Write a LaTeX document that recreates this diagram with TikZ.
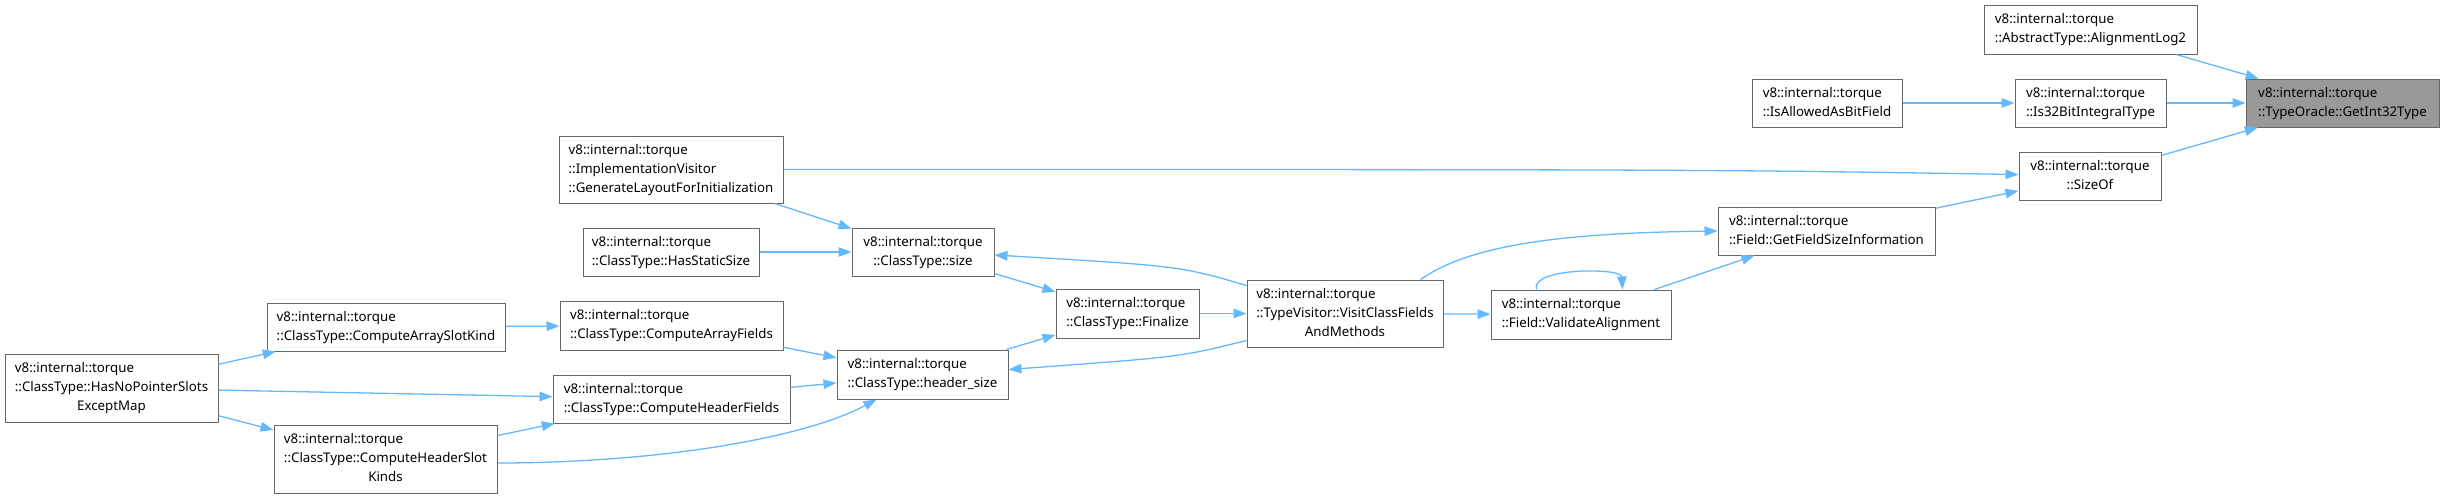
\documentclass[tikz,border=0pt]{standalone}
\usepackage{fontspec}
\setmainfont{Noto Sans}
\usetikzlibrary{arrows.meta,calc}
\definecolor{edgec}{HTML}{63B8FF}
\definecolor{bordc}{HTML}{666666}
\definecolor{targc}{HTML}{999999}
\newcommand{\dtxt}[2]{\begin{tabular}{@{}l@{}}#1\\\multicolumn{1}{@{}c@{}}{#2}\end{tabular}}
\begin{document}
\begin{tikzpicture}[x=1pt,y=-1pt,
  box/.style n args={2}{draw=bordc,fill=white,line width=1pt,inner sep=0pt,
    minimum width=#1pt,minimum height=#2pt,font=\fontsize{13.3}{19}\selectfont},
  target/.style={fill=targc},
  edge/.style={draw=edgec,line width=1.3pt,-{Triangle[length=13pt,width=9.5pt]}}]
\useasboundingbox (0,0) rectangle (2444,498);

\node[box={213}{49}] (AL2) at (2090.5,29.5) {\dtxt{v8::internal::torque}{::AbstractType::AlignmentLog2}};
\node[box={193}{48},target] (GI32) at (2342.5,103) {\dtxt{v8::internal::torque}{::TypeOracle::GetInt32Type}};
\node[box={150}{48}] (IAB) at (1827,103) {\dtxt{v8::internal::torque}{::IsAllowedAsBitField}};
\node[box={151}{48}] (I32) at (2090.5,103) {\dtxt{v8::internal::torque}{::Is32BitIntegralType}};
\node[box={142}{48}] (SizeOf) at (2090,176) {\dtxt{v8::internal::torque}{::SizeOf}};
\node[box={224}{67}] (GLFI) at (671,169.5) {\dtxt{v8::internal::torque\\::ImplementationVisitor}{::GenerateLayoutForInitialization}};
\node[box={217}{48}] (GFSI) at (1826.5,231) {\dtxt{v8::internal::torque}{::Field::GetFieldSizeInformation}};
\node[box={176}{48}] (HSS) at (671,252) {\dtxt{v8::internal::torque}{::ClassType::HasStaticSize}};
\node[box={142}{48}] (size) at (923,252) {\dtxt{v8::internal::torque}{::ClassType::size}};
\node[box={143}{49}] (Fin) at (1127.5,313.5) {\dtxt{v8::internal::torque}{::ClassType::Finalize}};
\node[box={196}{67}] (VCF) at (1345,313.5) {\dtxt{v8::internal::torque\\::TypeVisitor::VisitClassFields}{AndMethods}};
\node[box={180}{49}] (VA) at (1581,314.5) {\dtxt{v8::internal::torque}{::Field::ValidateAlignment}};
\node[box={238}{48}] (CASK) at (386,327) {\dtxt{v8::internal::torque}{::ClassType::ComputeArraySlotKind}};
\node[box={223}{49}] (CAF) at (671.5,325.5) {\dtxt{v8::internal::torque}{::ClassType::ComputeArrayFields}};
\node[box={213}{68}] (HNP) at (111.5,388) {\dtxt{v8::internal::torque\\::ClassType::HasNoPointerSlots}{ExceptMap}};
\node[box={171}{49}] (HS) at (922.5,374.5) {\dtxt{v8::internal::torque}{::ClassType::header\_size}};
\node[box={237}{48}] (CHF) at (671.5,399) {\dtxt{v8::internal::torque}{::ClassType::ComputeHeaderFields}};
\node[box={223}{68}] (CHSK) at (385.5,459) {\dtxt{v8::internal::torque\\::ClassType::ComputeHeaderSlot}{Kinds}};

\draw[edge] (AL2) -- (GI32);
\draw[edge] (I32) -- (GI32);
\draw[edge] (IAB) -- (I32);
\draw[edge] (SizeOf) -- (GI32);
\draw[edge] (GLFI.east) .. controls (1700,169.5) .. ($(SizeOf.west)+(0,-1.5)$);
\draw[edge] (GFSI) -- (SizeOf);
\draw[edge] (GLFI) -- (size);
\draw[edge] (HSS) -- (size);
\draw[edge] ($(VCF.west)+(0,-28)$) .. controls (1180,266) .. ($(size.east)+(0,3)$);
\draw[edge] (size) -- (Fin);
\draw[edge] (HS) -- (Fin);
\draw[edge] (Fin) -- (VCF);
\draw[edge] ($(VCF.west)+(0,27)$) .. controls (1180,357) .. ($(HS.east)+(0,-5)$);
\draw[edge] (VCF) -- (VA);
\draw[edge] ($(VCF.north east)+(-23,0)$) .. controls (1470,245) and (1560,233) .. (GFSI.west);
\draw[edge] (VA) -- (GFSI);
\draw[edge] ($(VA.north west)+(46,0)$) .. controls +(-7,-22) and +(-1,-22) .. ($(VA.north west)+(132,0)$);
\draw[edge] (CASK) -- (CAF);
\draw[edge] (CAF) -- (HS);
\draw[edge] (CHF) -- (HS);
\draw[edge] ($(CHSK.east)+(0,4)$) .. controls (650,463) and (800,440) .. ($(HS.south)+(-46,0)$);
\draw[edge] (CHSK) -- (CHF);
\draw[edge] (HNP) -- (CASK);
\draw[edge] (HNP) -- (CHF);
\draw[edge] (HNP) -- (CHSK);
\end{tikzpicture}
\end{document}
